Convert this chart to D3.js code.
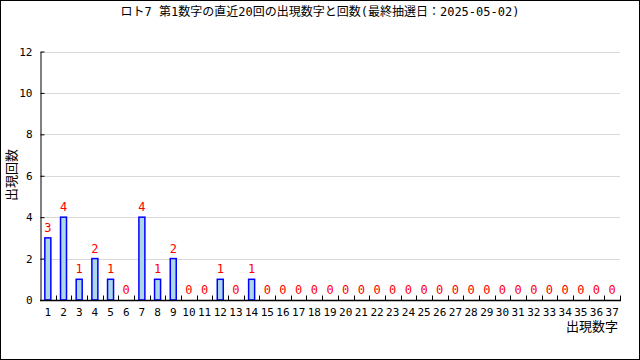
<html>
<head>
<style type="text/css">
  body { margin: 0; background: #fff; }
  text { font-family: "DejaVu Sans Mono", "Noto Sans CJK JP", monospace; }
  .grid line { stroke: #d9d9d9; stroke-width: 1px; }
  .bar { fill: #add8e6; stroke: #0000ff; stroke-width: 1.5px; }
  .lbl { fill: #ff0000; font-size: 12px; }
</style>
<script src="https://d3js.org/d3.v7.min.js"></script>
</head>
<body>
<script type="text/javascript">
// 出現数字 1..37 and how often each came up as the 1st number in the last 20 draws
var numbers = d3.range(1, 38);
var counts = [3, 4, 1, 2, 1, 0, 4, 1, 2, 0, 0, 1, 0, 1, 0, 0, 0, 0, 0, 0,
              0, 0, 0, 0, 0, 0, 0, 0, 0, 0, 0, 0, 0, 0, 0, 0, 0];
var yTicks = [0, 2, 4, 6, 8, 10, 12];
var title = 'ロト7 第1数字の直近20回の出現数字と回数(最終抽選日：2025-05-02)';

var width = 640, height = 360;
var plotLeft = 40, plotRight = 620, plotTop = 51.5, plotBottom = 300;

var svg = d3.select('body').append('svg')
  .attr('width', width)
  .attr('height', height);

// outer frame
svg.append('rect')
  .attr('x', 0.5).attr('y', 0.5)
  .attr('width', width - 1).attr('height', height - 1)
  .attr('fill', 'none').attr('stroke', '#000');

var x = d3.scaleBand().domain(numbers).range([plotLeft, plotRight]).padding(0);
var y = d3.scaleLinear().domain([0, 12]).range([plotBottom, plotTop]);

// gridlines
svg.append('g').attr('class', 'grid')
  .selectAll('line')
  .data(yTicks.filter(function(d) { return d > 0; }))
  .enter().append('line')
    .attr('x1', plotLeft).attr('x2', plotRight)
    .attr('y1', function(d) { return Math.round(y(d)) + 0.5; })
    .attr('y2', function(d) { return Math.round(y(d)) + 0.5; });

// y axis
var yAxis = d3.axisLeft(y).tickValues(yTicks).tickSizeInner(-4).tickSizeOuter(0).tickPadding(8);
var gy = svg.append('g')
  .attr('transform', 'translate(' + (plotLeft + 0.5) + ',0)')
  .call(yAxis);
gy.selectAll('text').attr('font-size', 11).attr('fill', '#000');

// bars
svg.selectAll('rect.bar')
  .data(counts)
  .enter().append('rect')
    .attr('class', 'bar')
    .attr('x', function(d, i) { return x(numbers[i]) + x.bandwidth() / 2 - 3; })
    .attr('width', 6)
    .attr('y', function(d) { return y(d); })
    .attr('height', function(d) { return plotBottom - y(d); })
    .style('display', function(d) { return d > 0 ? null : 'none'; });

// value labels
svg.selectAll('text.lbl')
  .data(counts)
  .enter().append('text')
    .attr('class', 'lbl')
    .attr('text-anchor', 'middle')
    .attr('x', function(d, i) { return x(numbers[i]) + x.bandwidth() / 2; })
    .attr('y', function(d) { return y(d) - 6; })
    .text(function(d) { return d; });

// x axis: baseline, boundary ticks pointing up, labels under each bar
var gx = svg.append('g')
  .attr('transform', 'translate(0,' + (plotBottom + 0.5) + ')');
gx.append('line')
  .attr('x1', plotLeft).attr('x2', plotRight + 1)
  .attr('stroke', '#000').attr('stroke-width', 1.5);
var edges = numbers.slice(1).map(function(n) { return x(n); }).concat([plotRight]);
gx.selectAll('line.tk')
  .data(edges)
  .enter().append('line')
    .attr('class', 'tk')
    .attr('x1', function(d) { return Math.round(d) + 0.5; })
    .attr('x2', function(d) { return Math.round(d) + 0.5; })
    .attr('y1', 0).attr('y2', -5)
    .attr('stroke', '#000');
var xAxis = d3.axisBottom(x).tickSize(0).tickPadding(8);
var gxl = svg.append('g')
  .attr('transform', 'translate(0,' + plotBottom + ')')
  .call(xAxis);
gxl.select('.domain').remove();
gxl.selectAll('text').attr('font-size', 11).attr('fill', '#000');

// titles
svg.append('text')
  .attr('x', 320).attr('y', 16)
  .attr('text-anchor', 'middle')
  .attr('font-size', 12)
  .text(title);

svg.append('text')
  .attr('transform', 'translate(16,175) rotate(-90)')
  .attr('text-anchor', 'middle')
  .attr('font-size', 13)
  .text('出現回数');

svg.append('text')
  .attr('x', 618).attr('y', 331)
  .attr('text-anchor', 'end')
  .attr('font-size', 13)
  .text('出現数字');
</script>
</body>
</html>
